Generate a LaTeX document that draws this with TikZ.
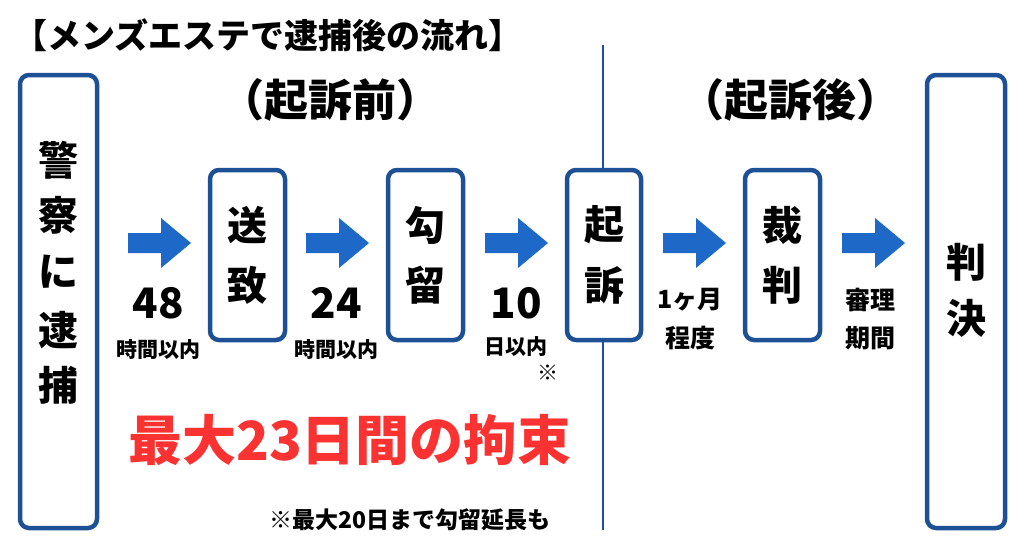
\documentclass[tikz,border=0pt]{standalone}
\usepackage{fontspec}
\setmainfont{Noto Sans CJK JP}
\definecolor{boxblue}{RGB}{30,80,150}
\definecolor{arrblue}{RGB}{30,105,200}
\definecolor{hotred}{RGB}{250,50,50}
\tikzset{
  stepbox/.style={draw=boxblue,line width=4.5pt,rounded corners=9pt,fill=white},
  big/.style={font=\fontsize{40}{42}\selectfont\bfseries},
  num/.style={font=\fontsize{42}{44}\selectfont\bfseries},
  small/.style={font=\fontsize{21}{23}\selectfont\bfseries},
  mid/.style={font=\fontsize{25}{27}\selectfont\bfseries}
}
\begin{document}
\begin{tikzpicture}[x=1pt,y=-1pt]
\useasboundingbox (0,0) rectangle (1024,538);
% title and phases
\node[anchor=west,font=\fontsize{34}{36}\selectfont\bfseries] (title) at (10,35) {【メンズエステで逮捕後の流れ】};
\node[font=\fontsize{44}{46}\selectfont\bfseries] (pre) at (330,100) {（起訴前）};
\node[font=\fontsize{44}{46}\selectfont\bfseries] (post) at (790,100) {（起訴後）};
\draw[boxblue,line width=2pt] (603,45) -- (603,530);
% boxes
\draw[stepbox] (20,75) rectangle (97,528);
\draw[stepbox] (210,170) rectangle (285,340);
\draw[stepbox] (388,170) rectangle (463,340);
\draw[stepbox] (567,170) rectangle (641,340);
\draw[stepbox] (745,170) rectangle (820,340);
\draw[stepbox] (927,75) rectangle (1005,528);
\node[big] (k1) at (58,160) {警};
\node[big] (k2) at (58,215) {察};
\node[big] (k3) at (58,272) {に};
\node[big] (k4) at (58,330) {逮};
\node[big] (k5) at (58,385) {捕};
\node[big] (s1) at (247,225) {送};
\node[big] (s2) at (247,285) {致};
\node[big] (r1) at (425,225) {勾};
\node[big] (r2) at (425,285) {留};
\node[big] (t1) at (604,225) {起};
\node[big] (t2) at (604,285) {訴};
\node[big] (c1) at (782,225) {裁};
\node[big] (c2) at (782,285) {判};
\node[big] (h1) at (966,262) {判};
\node[big] (h2) at (966,318) {決};
% arrows
\foreach \ax/\nm in {128/a1,306/a2,485/a3,663/a4,842/a5}{
  \coordinate (\nm) at (\ax,243);
  \fill[arrblue] (\nm) ++(0,-10) -- ++(33,0) -- ++(0,-15) -- ++(30,25)
    -- ++(-30,25) -- ++(0,-15) -- ++(-33,0) -- cycle;
}
% durations
\node[num] (d1) at (158,303) {48};
\node[small] (e1) at (158,350) {時間以内};
\node[num] (d2) at (336,303) {24};
\node[small] (e2) at (336,350) {時間以内};
\node[num] (d3) at (516,303) {10};
\node[small] (e3) at (516,347) {日以内};
\node[small] (m3) at (548,373) {※};
\node[mid] (d4) at (690,300) {1ヶ月};
\node[mid] (e4) at (690,338) {程度};
\node[mid] (d5) at (870,300) {審理};
\node[mid] (e5) at (870,338) {期間};
% notes
\node[hotred,font=\fontsize{54}{56}\selectfont\bfseries] (max) at (350,440) {最大23日間の拘束};
\node[font=\fontsize{23}{25}\selectfont\bfseries] (note) at (410,520) {※最大20日まで勾留延長も};
\end{tikzpicture}
\end{document}
